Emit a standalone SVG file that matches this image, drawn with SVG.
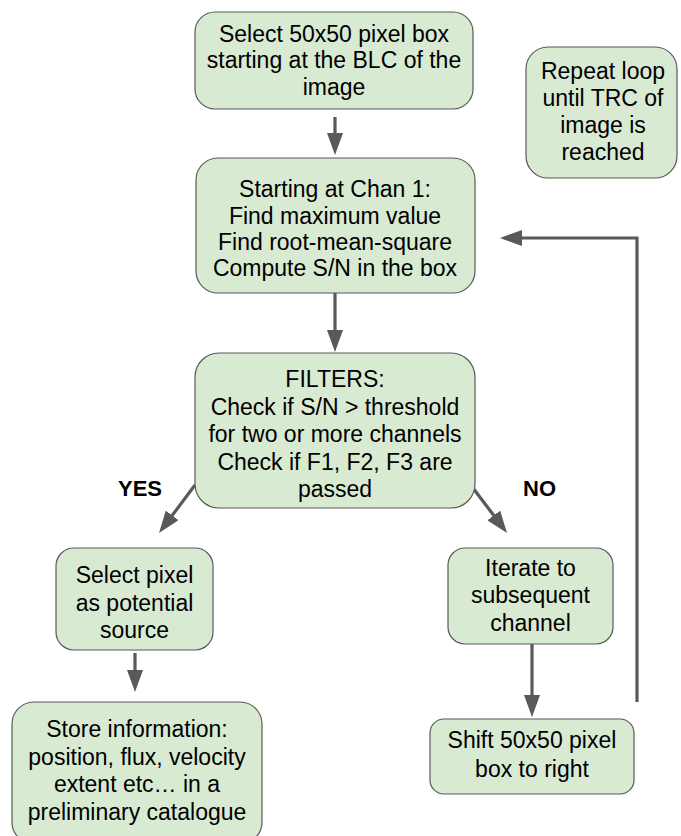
<svg xmlns="http://www.w3.org/2000/svg" width="681" height="836" viewBox="0 0 681 836">
<style>
.box{fill:#d9ead3;stroke:#595959;stroke-width:1.2}
.t{font-family:"Liberation Sans",Arial,sans-serif;font-size:23px;fill:#000;text-anchor:middle}
.lbl{font-family:"Liberation Sans",Arial,sans-serif;font-size:22px;font-weight:bold;fill:#000}
.c{fill:none;stroke:#595959;stroke-width:3.2}
</style>
<defs>
<marker id="ah" markerWidth="22" markerHeight="16" refX="12" refY="8" orient="auto" markerUnits="userSpaceOnUse">
<path d="M0,0 L22,8 L0,16 z" fill="#595959"/>
</marker>
</defs>
<rect width="681" height="836" fill="#fff"/>
<g id="connectors">
<line class="c" x1="335" y1="117" x2="335" y2="145" marker-end="url(#ah)"/>
<line class="c" x1="335" y1="293" x2="335" y2="342" marker-end="url(#ah)"/>
<line class="c" x1="195" y1="485" x2="165" y2="525" marker-end="url(#ah)"/>
<line class="c" x1="473" y1="488" x2="501" y2="525" marker-end="url(#ah)"/>
<line class="c" x1="135" y1="653" x2="135" y2="682" marker-end="url(#ah)"/>
<line class="c" x1="532" y1="644" x2="532" y2="707" marker-end="url(#ah)"/>
<polyline class="c" points="637,702 637,238 510,238" marker-end="url(#ah)"/>
</g>
<g id="n1">
<rect class="box" x="195" y="12" width="278" height="97" rx="20"/>
<text class="t" x="334" y="42">Select 50x50 pixel box</text>
<text class="t" x="334" y="68">starting at the BLC of the</text>
<text class="t" x="334" y="95">image</text>
</g>
<g id="n2">
<rect class="box" x="196" y="158" width="279" height="135" rx="22"/>
<text class="t" x="335" y="197">Starting at Chan 1:</text>
<text class="t" x="335" y="224">Find maximum value</text>
<text class="t" x="335" y="250">Find root-mean-square</text>
<text class="t" x="335" y="276">Compute S/N in the box</text>
</g>
<g id="repeat">
<rect class="box" x="526" y="47" width="151" height="131" rx="22"/>
<text class="t" x="603" y="79">Repeat loop</text>
<text class="t" x="603" y="106">until TRC of</text>
<text class="t" x="603" y="133">image is</text>
<text class="t" x="603" y="160">reached</text>
</g>
<g id="filters">
<rect class="box" x="195" y="353" width="280" height="155" rx="24"/>
<text class="t" x="335" y="387">FILTERS:</text>
<text class="t" x="335" y="415">Check if S/N &gt; threshold</text>
<text class="t" x="335" y="442">for two or more channels</text>
<text class="t" x="335" y="470">Check if F1, F2, F3 are</text>
<text class="t" x="335" y="497">passed</text>
</g>
<g id="yes-label"><text class="lbl" x="118" y="496">YES</text></g>
<g id="no-label"><text class="lbl" x="523" y="496">NO</text></g>
<g id="select">
<rect class="box" x="56" y="548" width="157" height="102" rx="18"/>
<text class="t" x="134.5" y="583">Select pixel</text>
<text class="t" x="134.5" y="611">as potential</text>
<text class="t" x="134.5" y="638">source</text>
</g>
<g id="store">
<rect class="box" x="12" y="702" width="250" height="142" rx="22"/>
<text class="t" x="137" y="737">Store information:</text>
<text class="t" x="137" y="765">position, flux, velocity</text>
<text class="t" x="137" y="792">extent etc… in a</text>
<text class="t" x="137" y="820">preliminary catalogue</text>
</g>
<g id="iterate">
<rect class="box" x="448" y="548" width="165" height="96" rx="17"/>
<text class="t" x="530.5" y="576">Iterate to</text>
<text class="t" x="530.5" y="603">subsequent</text>
<text class="t" x="530.5" y="631">channel</text>
</g>
<g id="shift">
<rect class="box" x="430" y="719" width="204" height="75" rx="14"/>
<text class="t" x="532" y="748">Shift 50x50 pixel</text>
<text class="t" x="532" y="777">box to right</text>
</g>
</svg>
